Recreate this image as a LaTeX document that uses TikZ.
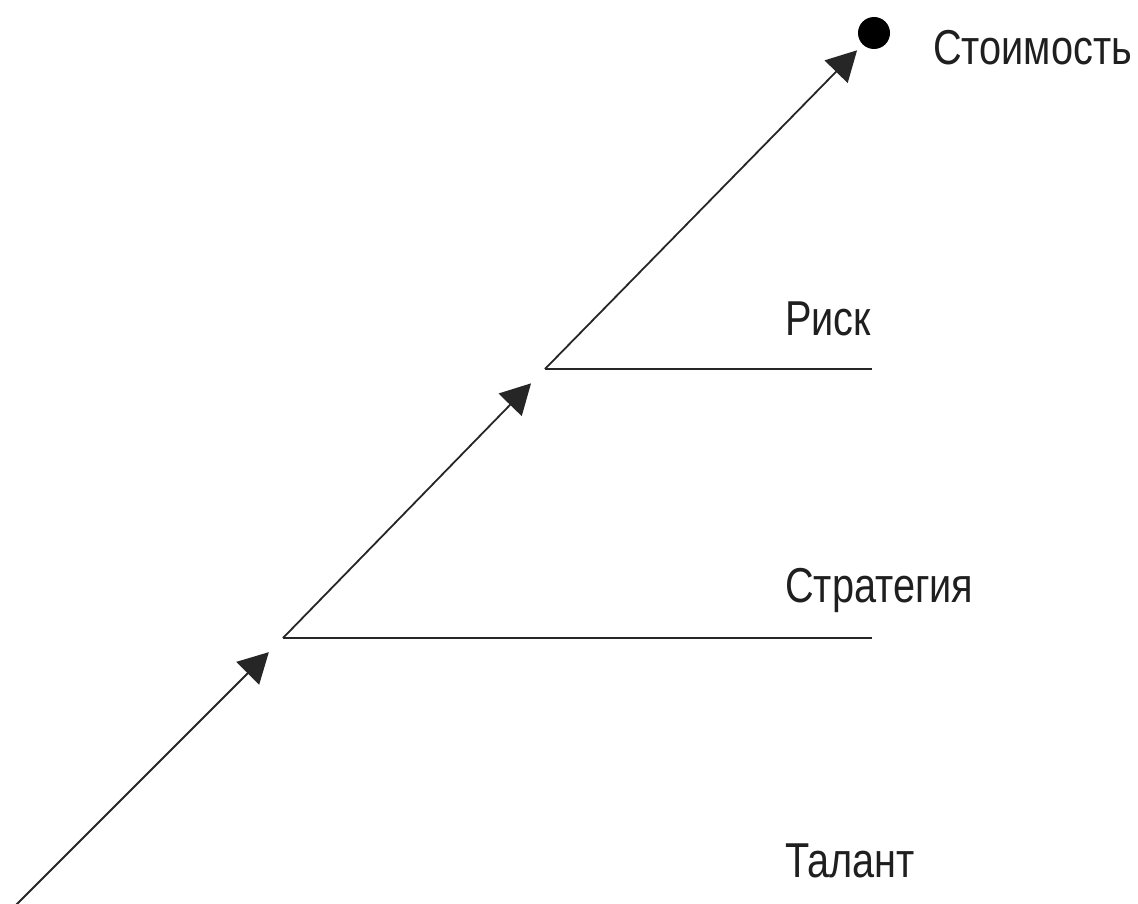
\documentclass[tikz,border=0pt]{standalone}
\usepackage{fontspec}
\setmainfont[FakeStretch=0.81]{Liberation Sans}
\usetikzlibrary{arrows.meta}
\begin{document}
\begin{tikzpicture}[x=1pt,y=-1pt,
  conn/.style={line width=1.8pt, draw=black!85},
  arr/.style={conn, -{Triangle[length=30pt,width=32pt]}, shorten >=20pt},
  lbl/.style={anchor=base west, inner sep=0pt, font=\fontsize{49}{55}\selectfont, text=black!88}]
\useasboundingbox (0,0) rectangle (1138,904);
\coordinate (start) at (15,906);
\coordinate (c1) at (283,638);
\coordinate (c2) at (545,369);
\coordinate (e1) at (872,638);
\coordinate (e2) at (872,369);
\node[circle, fill=black, minimum size=32pt, inner sep=0pt] (dot) at (874,33) {};
\draw[arr] (start) -- (c1);
\draw[arr] (c1) -- (c2);
\draw[arr, shorten >=8pt] (c2) -- (dot);
\draw[conn] (c1) -- (e1);
\draw[conn] (c2) -- (e2);
\node[lbl] (v) at (933,65) {Стоимость};
\node[lbl] (r) at (785,335) {Риск};
\node[lbl] (s) at (785,602) {Стратегия};
\node[lbl] (t) at (785,877) {Талант};
\end{tikzpicture}
\end{document}
